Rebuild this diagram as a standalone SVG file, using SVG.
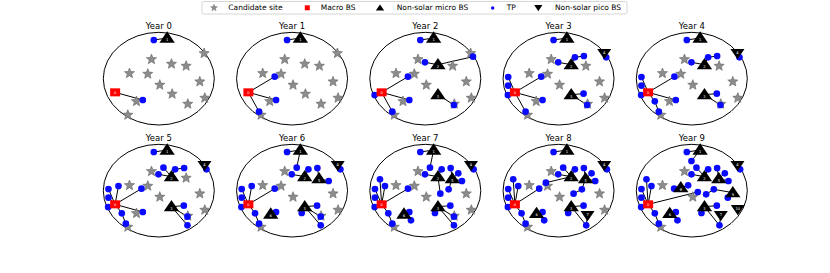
<svg xmlns="http://www.w3.org/2000/svg" width="830" height="273" viewBox="0 0 830 273">
<style>
.el{fill:none;stroke:#000;stroke-width:3}
.cn path{fill:none;stroke:#000;stroke-width:3}
.tt{font-family:"DejaVu Sans",sans-serif;font-size:25.5px;text-anchor:middle;fill:#000}
.bl{font-family:"DejaVu Sans",sans-serif;font-size:11px;text-anchor:middle;fill:#fff}
.s{fill:#8c8c8c;stroke:#6e6e6e;stroke-width:2}
.t{fill:#000}
.q{fill:#ff0000}
.p{fill:#0a0aff}
.lg{font-family:"DejaVu Sans",sans-serif;font-size:7.5px;fill:#000}
</style>
<defs>
<path id="st" d="M0,-16 L4.11,-5.66 L15.22,-4.94 L6.66,2.16 L9.4,12.94 L0,7 L-9.4,12.94 L-6.66,2.16 L-15.22,-4.94 L-4.11,-5.66 Z"/>
<path id="tr" d="M0,-20 L23,14 L-23,14 Z"/>
<path id="pc" d="M-21,-13 L21,-13 L0,18 Z"/>
<rect id="sq" x="-15" y="-12" width="30" height="24"/>
<circle id="tp" r="10"/>
</defs>
<rect width="830" height="273" fill="#fff"/>

<g id="legend">
<rect x="202" y="1.5" width="425" height="12.5" fill="#fff" stroke="#cccccc" stroke-width="0.8" rx="1.5"/>
<use href="#st" class="s" transform="translate(214,7.8) scale(0.22)"/>
<text class="lg" x="228.3" y="10.4">Candidate site</text>
<rect x="304.8" y="5.3" width="5" height="5" fill="#ff0000"/>
<text class="lg" x="320.7" y="10.4">Macro BS</text>
<path d="M380,4.4 L384.2,10.6 L375.8,10.6 Z" fill="#000"/>
<text class="lg" x="396.7" y="10.4">Non-solar micro BS</text>
<circle cx="492.7" cy="8" r="1.7" fill="#0a0aff"/>
<text class="lg" x="506.7" y="10.4">TP</text>
<path d="M534.2,5 L542.4,5 L538.3,11.2 Z" fill="#000"/>
<text class="lg" x="555" y="10.4">Non-solar pico BS</text>
</g>

<!-- Year 0 -->
<g id="year0" transform="translate(158.8,78.67) scale(0.33333)">
<text class="tt" y="-149">Year 0</text>
<ellipse class="el" rx="166.5" ry="139"/>
<g id="conn0" class="cn"><path d="M25,-122L-15,-116M-131,41L-48,64"/></g>
<g id="sites0">
<use href="#st" class="s" x="136" y="-76"/><use href="#st" class="s" x="-22" y="-58"/><use href="#st" class="s" x="38" y="-44"/><use href="#st" class="s" x="82" y="-38"/><use href="#st" class="s" x="-88" y="-16"/><use href="#st" class="s" x="-33" y="-14"/><use href="#st" class="s" x="123" y="9"/><use href="#st" class="s" x="3" y="19"/><use href="#st" class="s" x="40" y="46"/><use href="#st" class="s" x="138" y="58"/><use href="#st" class="s" x="87" y="76"/><use href="#st" class="s" x="-67" y="68"/><use href="#st" class="s" x="-93" y="109"/>
</g>
<g id="tps0"><use href="#tp" class="p" x="-15" y="-116"/><use href="#tp" class="p" x="-48" y="64"/></g>
<g id="y0-bs1" transform="translate(25,-122)"><use href="#tr" class="t"/><text class="bl" y="9">1</text></g>
<g id="y0-bs0" transform="translate(-131,41)"><use href="#sq" class="q"/><text class="bl" y="4">0</text></g>
</g>

<!-- Year 1 -->
<g id="year1" transform="translate(292.05,78.67) scale(0.33333)">
<text class="tt" y="-149">Year 1</text>
<ellipse class="el" rx="166.5" ry="139"/>
<g id="conn1" class="cn"><path d="M25,-122L-15,-116M-131,41L-52,-6M-131,41L-48,64M-131,41L-99,99"/></g>
<g id="sites1">
<use href="#st" class="s" x="136" y="-76"/><use href="#st" class="s" x="-22" y="-58"/><use href="#st" class="s" x="38" y="-44"/><use href="#st" class="s" x="82" y="-38"/><use href="#st" class="s" x="-88" y="-16"/><use href="#st" class="s" x="-33" y="-14"/><use href="#st" class="s" x="123" y="9"/><use href="#st" class="s" x="3" y="19"/><use href="#st" class="s" x="40" y="46"/><use href="#st" class="s" x="138" y="58"/><use href="#st" class="s" x="87" y="76"/><use href="#st" class="s" x="-67" y="68"/><use href="#st" class="s" x="-93" y="109"/>
</g>
<g id="tps1"><use href="#tp" class="p" x="-15" y="-116"/><use href="#tp" class="p" x="-52" y="-6"/><use href="#tp" class="p" x="-48" y="64"/><use href="#tp" class="p" x="-99" y="99"/></g>
<g id="y1-bs1" transform="translate(25,-122)"><use href="#tr" class="t"/><text class="bl" y="9">1</text></g>
<g id="y1-bs0" transform="translate(-131,41)"><use href="#sq" class="q"/><text class="bl" y="4">0</text></g>
</g>

<!-- Year 2 -->
<g id="year2" transform="translate(425.3,78.67) scale(0.33333)">
<text class="tt" y="-149">Year 2</text>
<ellipse class="el" rx="166.5" ry="139"/>
<g id="conn2" class="cn"><path d="M25,-122L-15,-116M-131,41L-52,-6M-131,41L-48,64M-131,41L-99,99M-131,41L-152,49M38,-42L-1,-49M38,-42L143,-66M38,48L86,79"/></g>
<g id="sites2">
<use href="#st" class="s" x="136" y="-76"/><use href="#st" class="s" x="-22" y="-58"/><use href="#st" class="s" x="82" y="-38"/><use href="#st" class="s" x="-88" y="-16"/><use href="#st" class="s" x="-33" y="-14"/><use href="#st" class="s" x="123" y="9"/><use href="#st" class="s" x="3" y="19"/><use href="#st" class="s" x="138" y="58"/><use href="#st" class="s" x="87" y="76"/><use href="#st" class="s" x="-67" y="68"/><use href="#st" class="s" x="-93" y="109"/>
</g>
<g id="tps2"><use href="#tp" class="p" x="-15" y="-116"/><use href="#tp" class="p" x="-52" y="-6"/><use href="#tp" class="p" x="-48" y="64"/><use href="#tp" class="p" x="-99" y="99"/><use href="#tp" class="p" x="-152" y="49"/><use href="#tp" class="p" x="-1" y="-49"/><use href="#tp" class="p" x="143" y="-66"/><use href="#tp" class="p" x="86" y="79"/></g>
<g id="y2-bs1" transform="translate(25,-122)"><use href="#tr" class="t"/><text class="bl" y="9">1</text></g>
<g id="y2-bs2" transform="translate(38,-42)"><use href="#tr" class="t"/><text class="bl" y="9">2</text></g>
<g id="y2-bs3" transform="translate(38,48)"><use href="#tr" class="t"/><text class="bl" y="9">3</text></g>
<g id="y2-bs0" transform="translate(-131,41)"><use href="#sq" class="q"/><text class="bl" y="4">0</text></g>
</g>

<!-- Year 3 -->
<g id="year3" transform="translate(558.55,78.67) scale(0.33333)">
<text class="tt" y="-149">Year 3</text>
<ellipse class="el" rx="166.5" ry="139"/>
<g id="conn3" class="cn"><path d="M25,-122L-15,-116M-131,41L-52,-6M-131,41L-48,64M-131,41L-99,99M-131,41L-152,49M-131,41L-151,21M-131,41L-151,-5M38,-42L-1,-49M38,-42L49,-64L76,-68M137,-76L143,-64M38,48L75,45M38,48L86,79"/></g>
<g id="sites3">
<use href="#st" class="s" x="-22" y="-58"/><use href="#st" class="s" x="82" y="-38"/><use href="#st" class="s" x="-88" y="-16"/><use href="#st" class="s" x="-33" y="-14"/><use href="#st" class="s" x="123" y="9"/><use href="#st" class="s" x="3" y="19"/><use href="#st" class="s" x="138" y="58"/><use href="#st" class="s" x="87" y="76"/><use href="#st" class="s" x="-67" y="68"/><use href="#st" class="s" x="-93" y="109"/>
</g>
<g id="tps3"><use href="#tp" class="p" x="-15" y="-116"/><use href="#tp" class="p" x="-52" y="-6"/><use href="#tp" class="p" x="-48" y="64"/><use href="#tp" class="p" x="-99" y="99"/><use href="#tp" class="p" x="-152" y="49"/><use href="#tp" class="p" x="-151" y="21"/><use href="#tp" class="p" x="-151" y="-5"/><use href="#tp" class="p" x="-1" y="-49"/><use href="#tp" class="p" x="49" y="-64"/><use href="#tp" class="p" x="76" y="-68"/><use href="#tp" class="p" x="143" y="-64"/><use href="#tp" class="p" x="75" y="45"/><use href="#tp" class="p" x="86" y="79"/></g>
<g id="y3-bs1" transform="translate(25,-122)"><use href="#tr" class="t"/><text class="bl" y="9">1</text></g>
<g id="y3-bs2" transform="translate(38,-42)"><use href="#tr" class="t"/><text class="bl" y="9">2</text></g>
<g id="y3-bs3" transform="translate(38,48)"><use href="#tr" class="t"/><text class="bl" y="9">3</text></g>
<g id="y3-bs4" transform="translate(137,-76)"><use href="#pc" class="t"/><text class="bl" y="2">4</text></g>
<g id="y3-bs0" transform="translate(-131,41)"><use href="#sq" class="q"/><text class="bl" y="4">0</text></g>
</g>

<!-- Year 4 -->
<g id="year4" transform="translate(691.8,78.67) scale(0.33333)">
<text class="tt" y="-149">Year 4</text>
<ellipse class="el" rx="166.5" ry="139"/>
<g id="conn4" class="cn"><path d="M25,-122L-15,-116M-131,41L-52,-6M-131,41L-48,64M-131,41L-111,68L-99,99M-131,41L-152,49M-131,41L-151,21M-131,41L-151,-5M38,-42L-1,-49M38,-42L49,-64L76,-68M137,-76L143,-64M38,48L75,45M38,48L86,79"/></g>
<g id="sites4">
<use href="#st" class="s" x="-22" y="-58"/><use href="#st" class="s" x="82" y="-38"/><use href="#st" class="s" x="-88" y="-16"/><use href="#st" class="s" x="-33" y="-14"/><use href="#st" class="s" x="123" y="9"/><use href="#st" class="s" x="3" y="19"/><use href="#st" class="s" x="138" y="58"/><use href="#st" class="s" x="87" y="76"/><use href="#st" class="s" x="-67" y="68"/><use href="#st" class="s" x="-93" y="109"/>
</g>
<g id="tps4"><use href="#tp" class="p" x="-15" y="-116"/><use href="#tp" class="p" x="-52" y="-6"/><use href="#tp" class="p" x="-48" y="64"/><use href="#tp" class="p" x="-111" y="68"/><use href="#tp" class="p" x="-99" y="99"/><use href="#tp" class="p" x="-152" y="49"/><use href="#tp" class="p" x="-151" y="21"/><use href="#tp" class="p" x="-151" y="-5"/><use href="#tp" class="p" x="-1" y="-49"/><use href="#tp" class="p" x="49" y="-64"/><use href="#tp" class="p" x="76" y="-68"/><use href="#tp" class="p" x="143" y="-64"/><use href="#tp" class="p" x="75" y="45"/><use href="#tp" class="p" x="86" y="79"/></g>
<g id="y4-bs1" transform="translate(25,-122)"><use href="#tr" class="t"/><text class="bl" y="9">1</text></g>
<g id="y4-bs2" transform="translate(38,-42)"><use href="#tr" class="t"/><text class="bl" y="9">2</text></g>
<g id="y4-bs3" transform="translate(38,48)"><use href="#tr" class="t"/><text class="bl" y="9">3</text></g>
<g id="y4-bs4" transform="translate(137,-76)"><use href="#pc" class="t"/><text class="bl" y="2">4</text></g>
<g id="y4-bs0" transform="translate(-131,41)"><use href="#sq" class="q"/><text class="bl" y="4">0</text></g>
</g>

<!-- Year 5 -->
<g id="year5" transform="translate(158.8,190.67) scale(0.33333)">
<text class="tt" y="-149">Year 5</text>
<ellipse class="el" rx="166.5" ry="139"/>
<g id="conn5" class="cn"><path d="M25,-122L-15,-116M-131,41L-52,-6M-131,41L-48,64M-131,41L-111,68L-99,99M-131,41L-152,49M-131,41L-151,21M-131,41L-151,-5M-131,41L-121,-14M38,-42L-1,-49M38,-42L14,-69M38,-42L49,-64L76,-68M137,-76L143,-64M38,48L75,45M38,48L86,78M38,48L86,104"/></g>
<g id="sites5">
<use href="#st" class="s" x="-22" y="-58"/><use href="#st" class="s" x="82" y="-38"/><use href="#st" class="s" x="-88" y="-16"/><use href="#st" class="s" x="-33" y="-14"/><use href="#st" class="s" x="123" y="9"/><use href="#st" class="s" x="3" y="19"/><use href="#st" class="s" x="138" y="58"/><use href="#st" class="s" x="87" y="76"/><use href="#st" class="s" x="-67" y="68"/><use href="#st" class="s" x="-93" y="109"/>
</g>
<g id="tps5"><use href="#tp" class="p" x="-15" y="-116"/><use href="#tp" class="p" x="-52" y="-6"/><use href="#tp" class="p" x="-48" y="64"/><use href="#tp" class="p" x="-111" y="68"/><use href="#tp" class="p" x="-99" y="99"/><use href="#tp" class="p" x="-152" y="49"/><use href="#tp" class="p" x="-151" y="21"/><use href="#tp" class="p" x="-151" y="-5"/><use href="#tp" class="p" x="-121" y="-14"/><use href="#tp" class="p" x="-1" y="-49"/><use href="#tp" class="p" x="14" y="-69"/><use href="#tp" class="p" x="49" y="-64"/><use href="#tp" class="p" x="76" y="-68"/><use href="#tp" class="p" x="143" y="-64"/><use href="#tp" class="p" x="75" y="45"/><use href="#tp" class="p" x="86" y="78"/><use href="#tp" class="p" x="86" y="104"/></g>
<g id="y5-bs1" transform="translate(25,-122)"><use href="#tr" class="t"/><text class="bl" y="9">1</text></g>
<g id="y5-bs2" transform="translate(38,-42)"><use href="#tr" class="t"/><text class="bl" y="9">2</text></g>
<g id="y5-bs3" transform="translate(38,48)"><use href="#tr" class="t"/><text class="bl" y="9">3</text></g>
<g id="y5-bs4" transform="translate(137,-76)"><use href="#pc" class="t"/><text class="bl" y="2">4</text></g>
<g id="y5-bs0" transform="translate(-131,41)"><use href="#sq" class="q"/><text class="bl" y="4">0</text></g>
</g>

<!-- Year 6 -->
<g id="year6" transform="translate(292.05,190.67) scale(0.33333)">
<text class="tt" y="-149">Year 6</text>
<ellipse class="el" rx="166.5" ry="139"/>
<g id="conn6" class="cn"><path d="M25,-122L-15,-116M25,-122L14,-69M-131,41L-52,-6M-131,41L-111,68L-99,99M-131,41L-152,49M-131,41L-151,21M-131,41L-151,-5M-131,41L-121,-14M38,-42L-1,-49M38,-42L49,-64M81,-36L76,-68M81,-36L110,-29M137,-76L145,-64M38,48L75,45M38,48L29,67M38,48L86,78M38,48L86,104M-64,70L-48,64"/></g>
<g id="sites6">
<use href="#st" class="s" x="-22" y="-58"/><use href="#st" class="s" x="-88" y="-16"/><use href="#st" class="s" x="-33" y="-14"/><use href="#st" class="s" x="123" y="9"/><use href="#st" class="s" x="3" y="19"/><use href="#st" class="s" x="138" y="58"/><use href="#st" class="s" x="87" y="76"/><use href="#st" class="s" x="-93" y="109"/>
</g>
<g id="tps6"><use href="#tp" class="p" x="-15" y="-116"/><use href="#tp" class="p" x="14" y="-69"/><use href="#tp" class="p" x="-52" y="-6"/><use href="#tp" class="p" x="-48" y="64"/><use href="#tp" class="p" x="-111" y="68"/><use href="#tp" class="p" x="-99" y="99"/><use href="#tp" class="p" x="-152" y="49"/><use href="#tp" class="p" x="-151" y="21"/><use href="#tp" class="p" x="-151" y="-5"/><use href="#tp" class="p" x="-121" y="-14"/><use href="#tp" class="p" x="-1" y="-49"/><use href="#tp" class="p" x="49" y="-64"/><use href="#tp" class="p" x="76" y="-68"/><use href="#tp" class="p" x="110" y="-29"/><use href="#tp" class="p" x="145" y="-64"/><use href="#tp" class="p" x="75" y="45"/><use href="#tp" class="p" x="29" y="67"/><use href="#tp" class="p" x="86" y="78"/><use href="#tp" class="p" x="86" y="104"/></g>
<g id="y6-bs1" transform="translate(25,-122)"><use href="#tr" class="t"/><text class="bl" y="9">1</text></g>
<g id="y6-bs2" transform="translate(38,-42)"><use href="#tr" class="t"/><text class="bl" y="9">2</text></g>
<g id="y6-bs5" transform="translate(81,-36)"><use href="#tr" class="t"/><text class="bl" y="9">5</text></g>
<g id="y6-bs3" transform="translate(38,48)"><use href="#tr" class="t"/><text class="bl" y="9">3</text></g>
<g id="y6-bs6" transform="translate(-64,70)"><use href="#tr" class="t"/><text class="bl" y="9">6</text></g>
<g id="y6-bs4" transform="translate(137,-76)"><use href="#pc" class="t"/><text class="bl" y="2">4</text></g>
<g id="y6-bs0" transform="translate(-131,41)"><use href="#sq" class="q"/><text class="bl" y="4">0</text></g>
</g>

<!-- Year 7 -->
<g id="year7" transform="translate(425.3,190.67) scale(0.33333)">
<text class="tt" y="-149">Year 7</text>
<ellipse class="el" rx="166.5" ry="139"/>
<g id="conn7" class="cn"><path d="M25,-122L-15,-116M25,-122L14,-69M-131,41L-52,-6M-131,41L-111,68L-99,99M-131,41L-152,49M-131,41L-151,21M-131,41L-151,-5M-131,41L-121,-14M-131,41L-136,-34M38,-42L-1,-49M38,-42L49,-64M38,-42L45,9M81,-36L76,-68M81,-36L99,-52M81,-36L110,-29M81,-36L70,-4M137,-76L145,-64M38,48L75,45M38,48L29,67M38,48L86,78M38,48L86,104M-64,70L-48,64M-64,70L-43,89"/></g>
<g id="sites7">
<use href="#st" class="s" x="-22" y="-58"/><use href="#st" class="s" x="-88" y="-16"/><use href="#st" class="s" x="-33" y="-14"/><use href="#st" class="s" x="123" y="9"/><use href="#st" class="s" x="3" y="19"/><use href="#st" class="s" x="138" y="58"/><use href="#st" class="s" x="87" y="76"/><use href="#st" class="s" x="-93" y="109"/>
</g>
<g id="tps7"><use href="#tp" class="p" x="-15" y="-116"/><use href="#tp" class="p" x="14" y="-69"/><use href="#tp" class="p" x="-52" y="-6"/><use href="#tp" class="p" x="-48" y="64"/><use href="#tp" class="p" x="-43" y="89"/><use href="#tp" class="p" x="-111" y="68"/><use href="#tp" class="p" x="-99" y="99"/><use href="#tp" class="p" x="-152" y="49"/><use href="#tp" class="p" x="-151" y="21"/><use href="#tp" class="p" x="-151" y="-5"/><use href="#tp" class="p" x="-121" y="-14"/><use href="#tp" class="p" x="-136" y="-34"/><use href="#tp" class="p" x="-1" y="-49"/><use href="#tp" class="p" x="49" y="-64"/><use href="#tp" class="p" x="45" y="9"/><use href="#tp" class="p" x="76" y="-68"/><use href="#tp" class="p" x="99" y="-52"/><use href="#tp" class="p" x="110" y="-29"/><use href="#tp" class="p" x="70" y="-4"/><use href="#tp" class="p" x="145" y="-64"/><use href="#tp" class="p" x="75" y="45"/><use href="#tp" class="p" x="29" y="67"/><use href="#tp" class="p" x="86" y="78"/><use href="#tp" class="p" x="86" y="104"/></g>
<g id="y7-bs1" transform="translate(25,-122)"><use href="#tr" class="t"/><text class="bl" y="9">1</text></g>
<g id="y7-bs2" transform="translate(38,-42)"><use href="#tr" class="t"/><text class="bl" y="9">2</text></g>
<g id="y7-bs5" transform="translate(81,-36)"><use href="#tr" class="t"/><text class="bl" y="9">5</text></g>
<g id="y7-bs3" transform="translate(38,48)"><use href="#tr" class="t"/><text class="bl" y="9">3</text></g>
<g id="y7-bs6" transform="translate(-64,70)"><use href="#tr" class="t"/><text class="bl" y="9">6</text></g>
<g id="y7-bs4" transform="translate(137,-76)"><use href="#pc" class="t"/><text class="bl" y="2">4</text></g>
<g id="y7-bs0" transform="translate(-131,41)"><use href="#sq" class="q"/><text class="bl" y="4">0</text></g>
</g>

<!-- Year 8 -->
<g id="year8" transform="translate(558.55,190.67) scale(0.33333)">
<text class="tt" y="-149">Year 8</text>
<ellipse class="el" rx="166.5" ry="139"/>
<g id="conn8" class="cn"><path d="M25,-122L-15,-116M38,-42L14,-69M-131,41L-58,-6M-38,-24L38,-42M-131,41L-111,68L-99,99M-131,41L-152,49M-131,41L-151,21M-131,41L-151,-5M-131,41L-121,-14M-131,41L-136,-34M38,-42L-1,-49M38,-42L49,-64M81,-36L76,-68M81,-36L99,-52M81,-36L110,-29M81,-36L70,-4L45,9M137,-76L145,-64M38,48L75,45M38,48L29,67M38,48L83,104M87,74L83,104M-66,68L-48,64M-66,68L-43,89"/></g>
<g id="sites8">
<use href="#st" class="s" x="-22" y="-58"/><use href="#st" class="s" x="-88" y="-16"/><use href="#st" class="s" x="-33" y="-14"/><use href="#st" class="s" x="123" y="9"/><use href="#st" class="s" x="3" y="19"/><use href="#st" class="s" x="138" y="58"/><use href="#st" class="s" x="-93" y="109"/>
</g>
<g id="tps8"><use href="#tp" class="p" x="-15" y="-116"/><use href="#tp" class="p" x="14" y="-69"/><use href="#tp" class="p" x="-58" y="-6"/><use href="#tp" class="p" x="-38" y="-24"/><use href="#tp" class="p" x="-48" y="64"/><use href="#tp" class="p" x="-43" y="89"/><use href="#tp" class="p" x="-111" y="68"/><use href="#tp" class="p" x="-99" y="99"/><use href="#tp" class="p" x="-152" y="49"/><use href="#tp" class="p" x="-151" y="21"/><use href="#tp" class="p" x="-151" y="-5"/><use href="#tp" class="p" x="-121" y="-14"/><use href="#tp" class="p" x="-136" y="-34"/><use href="#tp" class="p" x="-1" y="-49"/><use href="#tp" class="p" x="49" y="-64"/><use href="#tp" class="p" x="45" y="9"/><use href="#tp" class="p" x="76" y="-68"/><use href="#tp" class="p" x="99" y="-52"/><use href="#tp" class="p" x="110" y="-29"/><use href="#tp" class="p" x="70" y="-4"/><use href="#tp" class="p" x="145" y="-64"/><use href="#tp" class="p" x="75" y="45"/><use href="#tp" class="p" x="29" y="67"/><use href="#tp" class="p" x="83" y="104"/></g>
<g id="y8-bs1" transform="translate(25,-122)"><use href="#tr" class="t"/><text class="bl" y="9">1</text></g>
<g id="y8-bs2" transform="translate(38,-42)"><use href="#tr" class="t"/><text class="bl" y="9">2</text></g>
<g id="y8-bs5" transform="translate(81,-36)"><use href="#tr" class="t"/><text class="bl" y="9">5</text></g>
<g id="y8-bs3" transform="translate(38,48)"><use href="#tr" class="t"/><text class="bl" y="9">3</text></g>
<g id="y8-bs6" transform="translate(-66,68)"><use href="#tr" class="t"/><text class="bl" y="9">6</text></g>
<g id="y8-bs4" transform="translate(137,-76)"><use href="#pc" class="t"/><text class="bl" y="2">4</text></g>
<g id="y8-bs7" transform="translate(87,74)"><use href="#pc" class="t"/><text class="bl" y="2">7</text></g>
<g id="y8-bs0" transform="translate(-131,41)"><use href="#sq" class="q"/><text class="bl" y="4">0</text></g>
</g>

<!-- Year 9 -->
<g id="year9" transform="translate(691.8,190.67) scale(0.33333)">
<text class="tt" y="-149">Year 9</text>
<ellipse class="el" rx="166.5" ry="139"/>
<g id="conn9" class="cn"><path d="M25,-122L-15,-116M25,-122L-1,-89M38,-42L14,-69M38,-42L-1,-49M38,-42L49,-64M81,-36L76,-68M81,-36L99,-52M81,-36L110,-29M-33,-9L-53,-6M-33,-9L-11,-16M-131,41L18,4M123,6L66,-4L43,11M123,6L108,21M137,-76L145,-64M38,48L75,45M38,48L29,67M38,48L83,104M87,74L83,104M-66,68L-48,64M-66,68L-43,89M-131,41L-111,68L-99,99M-131,41L-152,49M-131,41L-151,21M-131,41L-151,-5M-131,41L-121,-14M-131,41L-136,-34"/></g>
<g id="sites9">
<use href="#st" class="s" x="-22" y="-58"/><use href="#st" class="s" x="-88" y="-16"/><use href="#st" class="s" x="3" y="19"/><use href="#st" class="s" x="-93" y="109"/>
</g>
<g id="tps9"><use href="#tp" class="p" x="-15" y="-116"/><use href="#tp" class="p" x="-1" y="-89"/><use href="#tp" class="p" x="14" y="-69"/><use href="#tp" class="p" x="-1" y="-49"/><use href="#tp" class="p" x="49" y="-64"/><use href="#tp" class="p" x="76" y="-68"/><use href="#tp" class="p" x="99" y="-52"/><use href="#tp" class="p" x="110" y="-29"/><use href="#tp" class="p" x="-53" y="-6"/><use href="#tp" class="p" x="-11" y="-16"/><use href="#tp" class="p" x="18" y="4"/><use href="#tp" class="p" x="43" y="11"/><use href="#tp" class="p" x="66" y="-4"/><use href="#tp" class="p" x="108" y="21"/><use href="#tp" class="p" x="145" y="-64"/><use href="#tp" class="p" x="75" y="45"/><use href="#tp" class="p" x="29" y="67"/><use href="#tp" class="p" x="83" y="104"/><use href="#tp" class="p" x="-48" y="64"/><use href="#tp" class="p" x="-43" y="89"/><use href="#tp" class="p" x="-152" y="49"/><use href="#tp" class="p" x="-151" y="21"/><use href="#tp" class="p" x="-151" y="-5"/><use href="#tp" class="p" x="-136" y="-34"/><use href="#tp" class="p" x="-121" y="-14"/><use href="#tp" class="p" x="-111" y="68"/><use href="#tp" class="p" x="-99" y="99"/></g>
<g id="y9-bs1" transform="translate(25,-122)"><use href="#tr" class="t"/><text class="bl" y="9">1</text></g>
<g id="y9-bs2" transform="translate(38,-42)"><use href="#tr" class="t"/><text class="bl" y="9">2</text></g>
<g id="y9-bs5" transform="translate(81,-36)"><use href="#tr" class="t"/><text class="bl" y="9">5</text></g>
<g id="y9-bs8" transform="translate(-33,-9)"><use href="#tr" class="t"/><text class="bl" y="9">8</text></g>
<g id="y9-bs9" transform="translate(123,6)"><use href="#tr" class="t"/><text class="bl" y="9">9</text></g>
<g id="y9-bs3" transform="translate(38,48)"><use href="#tr" class="t"/><text class="bl" y="9">3</text></g>
<g id="y9-bs6" transform="translate(-66,68)"><use href="#tr" class="t"/><text class="bl" y="9">6</text></g>
<g id="y9-bs4" transform="translate(137,-76)"><use href="#pc" class="t"/><text class="bl" y="2">4</text></g>
<g id="y9-bs7" transform="translate(87,74)"><use href="#pc" class="t"/><text class="bl" y="2">7</text></g>
<g id="y9-bs10" transform="translate(138,56)"><use href="#pc" class="t"/><text class="bl" y="2">10</text></g>
<g id="y9-bs0" transform="translate(-131,41)"><use href="#sq" class="q"/><text class="bl" y="4">0</text></g>
</g>
</svg>
